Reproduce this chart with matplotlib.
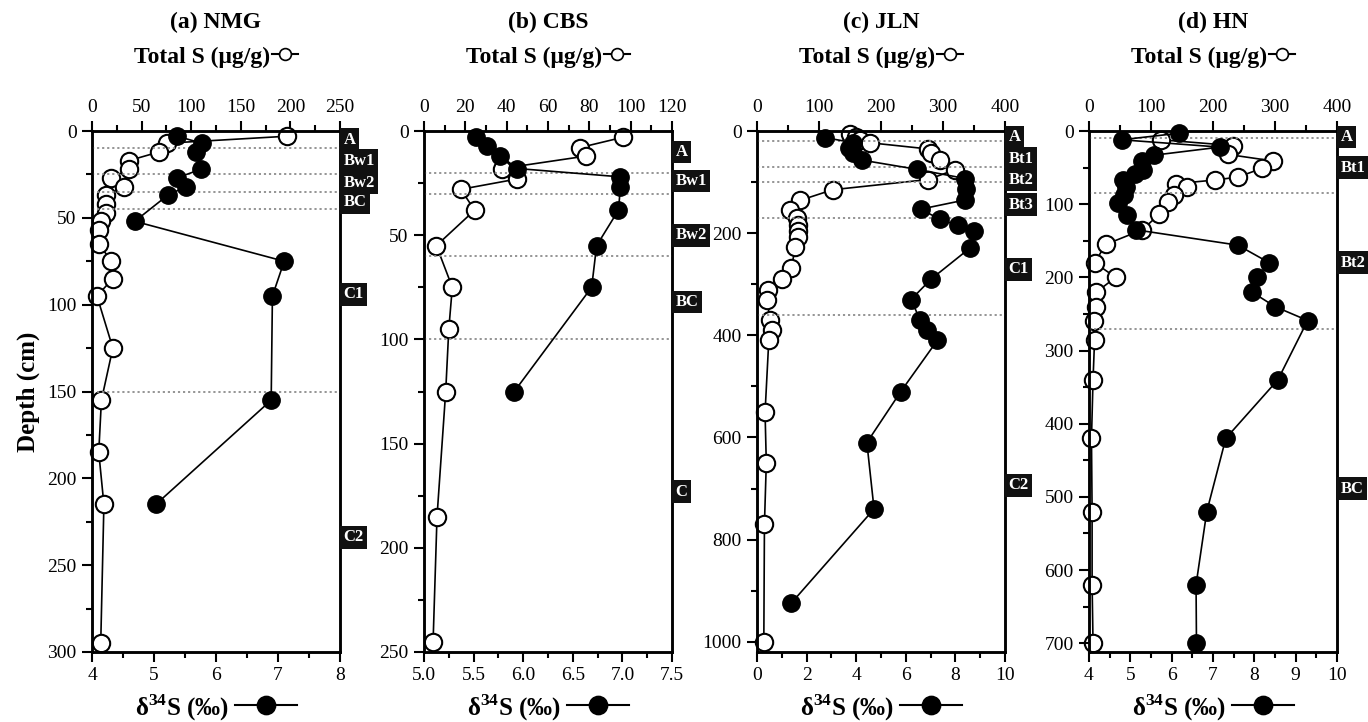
import matplotlib
matplotlib.use("Agg")
import matplotlib.pyplot as plt
import matplotlib.transforms as mtransforms
from matplotlib.lines import Line2D
from matplotlib.ticker import MultipleLocator

plt.rcParams['font.family'] = ['Liberation Serif', 'DejaVu Sans']
plt.rcParams['mathtext.fontset'] = 'custom'
plt.rcParams['mathtext.rm'] = 'Liberation Serif'
plt.rcParams['mathtext.bf'] = 'Liberation Serif:bold'

# ---- (a) NMG ----
nmg_ts_depth = [3, 7, 12, 17, 22, 27, 32, 37, 42, 47, 52, 57, 65, 75, 85, 95, 125, 155, 185, 215, 295]
nmg_ts = [197, 76, 68, 37.5, 37, 19.6, 32, 14.6, 14.6, 14.6, 9.5, 6.8, 6.8, 19.6, 21, 5, 21, 9.5, 6.8, 12, 8.8]
nmg_d34_depth = [3, 7, 12, 22, 27, 32, 37, 52, 75, 95, 155, 215]
nmg_d34 = [5.37, 5.77, 5.68, 5.76, 5.37, 5.52, 5.22, 4.69, 7.10, 6.91, 6.89, 5.03]
nmg_bounds = [10, 25, 35, 45, 150]
nmg_hor = ["A", "Bw1", "Bw2", "BC", "C1", "C2"]
nmg_hor_depth = [5, 17, 30, 41, 94, 234]

# ---- (b) CBS ----
cbs_ts_depth = [3, 8, 12, 18, 23, 28, 38, 55, 75, 95, 125, 185, 245]
cbs_ts = [96.3, 75.3, 78.6, 37.7, 45.2, 17.8, 24.5, 6.0, 13.7, 12.0, 10.5, 6.3, 4.4]
cbs_d34_depth = [3, 7, 12, 18, 22, 27, 38, 55, 75, 125]
cbs_d34 = [5.52, 5.64, 5.77, 5.94, 6.98, 6.98, 6.96, 6.74, 6.69, 5.91]
cbs_bounds = [20, 30, 60, 100]
cbs_hor = ["A", "Bw1", "Bw2", "BC", "C"]
cbs_hor_depth = [10, 24, 50, 82, 173]

# ---- (c) JLN ----
jln_ts_depth = [5, 12, 17, 23, 35, 44, 56, 76, 95, 115, 136, 154, 171, 184, 195, 208, 228, 269,
                290, 312, 330, 370, 390, 410, 551, 650, 770, 1000]
jln_ts = [150, 160, 166, 182, 275, 280, 295, 319, 276, 122, 69, 54, 64, 66, 66, 66, 62, 55,
          40, 18, 16, 21, 24, 19, 13, 15, 12, 11]
jln_d34_depth = [13, 23, 34, 44, 57, 75, 93, 113, 135, 153, 173, 185, 195, 229, 290, 330,
                 370, 390, 410, 510, 610, 740, 925]
jln_d34 = [2.75, 3.89, 3.69, 3.87, 4.23, 6.44, 8.39, 8.43, 8.39, 6.6, 7.38, 8.12, 8.75, 8.59,
           7.02, 6.21, 6.58, 6.85, 7.27, 5.8, 4.43, 4.72, 1.37]
jln_bounds = [20, 70, 100, 170, 360]
jln_hor = ["A", "Bt1", "Bt2", "Bt3", "C1", "C2"]
jln_hor_depth = [12, 54, 96, 144, 271, 694]

# ---- (d) HN ----
hn_ts_depth = [12, 20, 32, 41, 51, 63, 67, 72, 77, 88, 97, 114, 135, 155, 180, 200, 220, 240,
               259, 285, 340, 420, 520, 620, 700]
hn_ts = [116, 233, 224, 297, 279, 240, 203, 140, 158, 137, 127, 113, 86, 27, 9, 43, 12, 12,
         8, 9, 6.5, 4, 5, 5, 6.5]
hn_d34_depth = [3, 12, 22, 33, 41, 53, 59, 67, 77, 88, 98, 115, 135, 156, 180, 200, 220, 240,
                259, 340, 420, 520, 620, 700]
hn_d34 = [6.18, 4.79, 7.17, 5.58, 5.29, 5.31, 5.11, 4.83, 4.9, 4.85, 4.7, 4.93, 5.13, 7.6,
          8.36, 8.06, 7.94, 8.5, 9.29, 8.57, 7.31, 6.85, 6.59, 6.6]
hn_bounds = [10, 85, 270]
hn_hor = ["A", "Bt1", "Bt2", "BC"]
hn_hor_depth = [8, 50, 180, 489]

titles = ["(a) NMG", "(b) CBS", "(c) JLN", "(d) HN"]

panels = [
    dict(ts_d=nmg_ts_depth, ts=nmg_ts, d_d=nmg_d34_depth, d=nmg_d34, bounds=nmg_bounds,
         hor=nmg_hor, hor_d=nmg_hor_depth, ylim=300, ymaj=50, ymin=25,
         xlim=(4, 8), xmaj=1, xmin=0.5, xfmt="%d", tslim=250, tsmaj=50, tsmin=25, left=92),
    dict(ts_d=cbs_ts_depth, ts=cbs_ts, d_d=cbs_d34_depth, d=cbs_d34, bounds=cbs_bounds,
         hor=cbs_hor, hor_d=cbs_hor_depth, ylim=250, ymaj=50, ymin=25,
         xlim=(5, 7.5), xmaj=0.5, xmin=0.25, xfmt="%.1f", tslim=120, tsmaj=20, tsmin=10, left=424),
    dict(ts_d=jln_ts_depth, ts=jln_ts, d_d=jln_d34_depth, d=jln_d34, bounds=jln_bounds,
         hor=jln_hor, hor_d=jln_hor_depth, ylim=1020, ymaj=200, ymin=100,
         xlim=(0, 10), xmaj=2, xmin=1, xfmt="%d", tslim=400, tsmaj=100, tsmin=50, left=757),
    dict(ts_d=hn_ts_depth, ts=hn_ts, d_d=hn_d34_depth, d=hn_d34, bounds=hn_bounds,
         hor=hn_hor, hor_d=hn_hor_depth, ylim=712, ymaj=100, ymin=50,
         xlim=(4, 10), xmaj=1, xmin=0.5, xfmt="%d", tslim=400, tsmaj=100, tsmin=50, left=1089),
]

W, H = 1368, 722
fig = plt.figure(figsize=(W / 100, H / 100), dpi=100)
fig.patch.set_facecolor("white")

top_px, bot_px, width_px = 131, 652, 248


def label_with_symbol(ax, text, y_px, filled, fs, line_len, ms, gap):
    renderer = fig.canvas.get_renderer()
    t = fig.text(0, 1 - y_px / H, text, ha="left", va="center", fontsize=fs, fontweight="bold")
    tw = t.get_window_extent(renderer).width
    abb = ax.get_window_extent(renderer)
    cx = (abb.x0 + abb.x1) / 2
    x0 = cx - (tw + gap + line_len) / 2
    t.set_x(x0 / W)
    xs = (x0 + tw + gap) / W
    xe = xs + line_len / W
    yy = 1 - y_px / H + 0.004
    fig.add_artist(Line2D([xs, xe], [yy, yy], transform=fig.transFigure, color="black", lw=1.5))
    fig.add_artist(Line2D([(xs + xe) / 2], [yy], transform=fig.transFigure, marker="o", ms=ms,
                          mfc="black" if filled else "white", mec="black", mew=1.2, lw=0))


for i, p in enumerate(panels):
    ax = fig.add_axes([p["left"] / W, (H - bot_px) / H, width_px / W, (bot_px - top_px) / H])
    ax2 = ax.twiny()
    ax.set_zorder(ax2.get_zorder() + 1)
    ax.patch.set_visible(False)

    for b in p["bounds"]:
        ax.axhline(b, color="#8c8c8c", ls=(0, (1.2, 1.6)), lw=1.3, zorder=0)

    ax2.plot(p["ts"], p["ts_d"], "-o", color="black", mfc="white", mec="black",
             ms=12.5, mew=1.5, lw=1.2, clip_on=False)
    ax.plot(p["d"], p["d_d"], "-o", color="black", mfc="black", mec="black",
            ms=12.5, mew=1.0, lw=1.2, clip_on=False)

    ax.set_ylim(p["ylim"], 0)
    ax.set_xlim(*p["xlim"])
    ax2.set_xlim(0, p["tslim"])

    ax.yaxis.set_major_locator(MultipleLocator(p["ymaj"]))
    ax.yaxis.set_minor_locator(MultipleLocator(p["ymin"]))
    ax.xaxis.set_major_locator(MultipleLocator(p["xmaj"]))
    ax.xaxis.set_minor_locator(MultipleLocator(p["xmin"]))
    ax.xaxis.set_major_formatter(plt.FormatStrFormatter(p["xfmt"]))
    ax2.xaxis.set_major_locator(MultipleLocator(p["tsmaj"]))
    ax2.xaxis.set_minor_locator(MultipleLocator(p["tsmin"]))

    for a in (ax, ax2):
        a.tick_params(which="major", direction="out", length=7, width=1.5, labelsize=14, pad=4)
        a.tick_params(which="minor", direction="out", length=4, width=1.5)
        for s in a.spines.values():
            s.set_linewidth(1.8)
    ax.tick_params(right=False, top=False, which="both")

    # horizon labels
    trans = mtransforms.blended_transform_factory(ax.transAxes, ax.transData)
    trans = mtransforms.offset_copy(trans, fig=fig, x=2.6, y=0, units="points")
    for name, dep in zip(p["hor"], p["hor_d"]):
        ax.text(1.0, dep, name, transform=trans, ha="left", va="center", color="white",
                fontsize=12, fontweight="bold", clip_on=False, zorder=10,
                bbox=dict(boxstyle="square,pad=0.2", fc="#111111", ec="none"))

    cx = (p["left"] + width_px / 2) / W
    fig.text(cx, 1 - 22 / H, titles[i], ha="center", va="center", fontsize=17, fontweight="bold")
    label_with_symbol(ax, "Total S (\u03bcg/g)", 57, False, 17, 26, 8.5, 2)
    label_with_symbol(ax, "\u03b4$^{\\mathbf{34}}$S (\u2030)", 708, True, 18, 62, 13, 6)

fig.text(28 / W, 1 - ((top_px + bot_px) / 2) / H, "Depth (cm)", rotation=90, ha="center",
         va="center", fontsize=18, fontweight="bold")

fig.savefig("out.png", dpi=100)
